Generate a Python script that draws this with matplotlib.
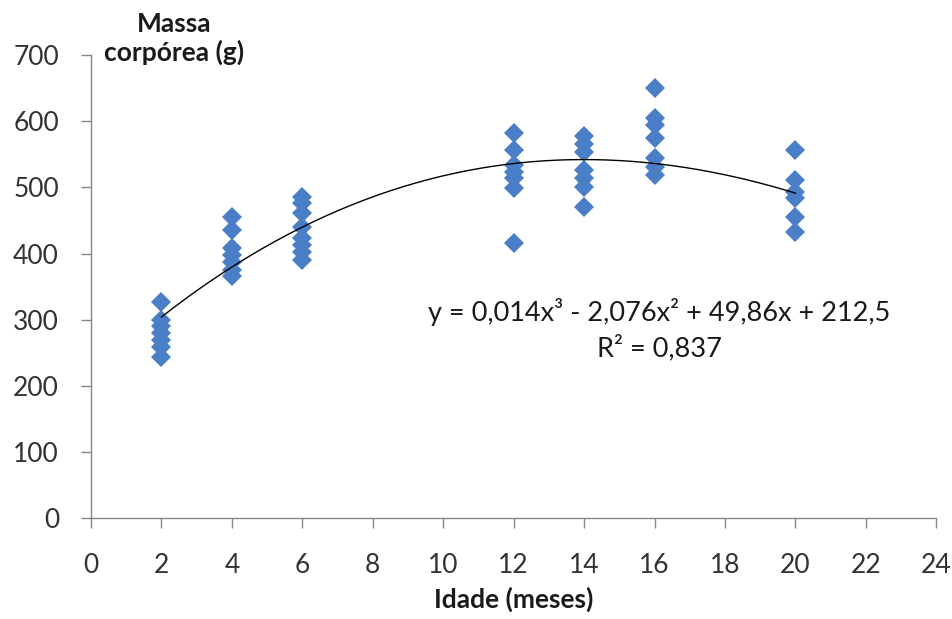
import matplotlib
matplotlib.use("Agg")
import matplotlib.pyplot as plt
import numpy as np

plt.rcParams['font.family'] = ['Lato', 'DejaVu Sans']

# Data
ages = [2, 4, 6, 12, 14, 16, 20]
mass = {
    2: [327, 300, 290, 280, 270, 258, 243],
    4: [455, 435, 408, 398, 387, 375, 366],
    6: [486, 476, 461, 440, 423, 413, 402, 390],
    12: [582, 556, 534, 523, 514, 499, 416],
    14: [577, 566, 553, 526, 514, 500, 470],
    16: [650, 605, 594, 575, 544, 531, 519],
    20: [556, 511, 493, 484, 455, 432],
}
# Trend line coefficients (from displayed equation)
coef = [0.014, -2.076, 49.86, 212.5]
x_ticks = list(range(0, 25, 2))
y_ticks = list(range(0, 701, 100))

fig = plt.figure(figsize=(9.52, 6.19), dpi=100)
ax = fig.add_axes([0.0956, 0.163, 0.888, 0.748])

xs = [a for a in ages for _ in mass[a]]
ys = [v for a in ages for v in mass[a]]
ax.plot(xs, ys, linestyle='none', marker='D', markersize=10,
        color='#4a7fc8', markeredgewidth=0)

xc = np.linspace(min(ages), max(ages), 200)
ax.plot(xc, np.polyval(coef, xc), color='black', linewidth=1.0)

ax.set_xlim(0, 24)
ax.set_ylim(0, 700)
ax.set_xticks(x_ticks)
ax.set_yticks(y_ticks)
for s in ['top', 'right']:
    ax.spines[s].set_visible(False)
for s in ['left', 'bottom']:
    ax.spines[s].set_color('#868686')
    ax.spines[s].set_linewidth(1.0)
ax.tick_params(axis='both', direction='out', length=7, width=1,
               color='#868686', labelsize=19, labelcolor='#333333')
ax.tick_params(axis='y', pad=16)
ax.tick_params(axis='x', pad=18)

fig.text(0.183, 0.895, 'Massa\ncorpórea (g)', ha='center', va='bottom',
         fontsize=19, fontweight='bold', color='#1a1a1a', linespacing=1.15)
fig.text(0.54, 0.012, 'Idade (meses)', ha='center', va='bottom',
         fontsize=19, fontweight='bold', color='#1a1a1a')

ax.text(16.14, 311, 'y = 0,014x³ - 2,076x² + 49,86x + 212,5', ha='center',
        va='center', fontsize=19.5, color='#1a1a1a')
ax.text(16.14, 257, 'R² = 0,837', ha='center', va='center', fontsize=19.5,
        color='#1a1a1a')

fig.savefig('out.png', dpi=100)
